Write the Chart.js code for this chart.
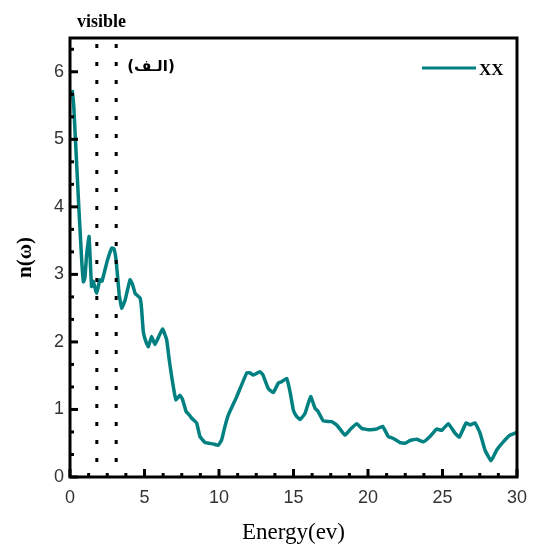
<!DOCTYPE html>
<html>
<head>
<meta charset="utf-8">
<script src="https://cdn.jsdelivr.net/npm/chart.js@4"></script>
<style>
  body { margin: 0; background: #fff; }
</style>
</head>
<body>
<canvas id="nChart" width="533" height="548"></canvas>
<script>
// energy (eV) and refractive index n(w)
const energy = [0.15, 0.25, 0.4, 0.6, 0.72, 0.8, 0.9, 1.0, 1.12, 1.28, 1.38, 1.45, 1.55, 1.79, 2.0, 2.15, 2.5, 2.8, 2.95, 3.1,
  3.3, 3.47, 3.7, 4.03, 4.2, 4.37, 4.7, 4.8, 4.92, 5.1, 5.26, 5.48, 5.7, 6.0, 6.22, 6.49, 6.65, 6.82, 7.0, 7.11,
  7.38, 7.55, 7.79, 8.0, 8.17, 8.5, 8.72, 9.06, 9.6, 9.95, 10.18, 10.4, 10.63, 11.19, 11.86, 12.08, 12.3, 12.75, 12.95, 13.31,
  13.64, 13.98, 14.2, 14.54, 14.77, 14.99, 15.2, 15.44, 15.77, 16.15, 16.44, 16.65, 17.0, 17.56, 17.9, 18.46, 18.79, 19.24, 19.58, 20.02,
  20.58, 20.98, 21.36, 21.7, 22.15, 22.48, 22.82, 23.27, 23.71, 24.16, 24.61, 24.95, 25.39, 25.84, 26.13, 26.58, 26.85, 27.18, 27.52, 27.85,
  28.26, 28.64, 29.08, 29.53, 29.87, 30.0];
const nXX = [5.73, 5.5, 4.84, 3.96, 3.47, 3.15, 2.89, 2.95, 3.3, 3.56, 3.1, 2.82, 2.9, 2.72, 2.92, 2.9, 3.2, 3.39, 3.38, 3.2,
  2.7, 2.5, 2.62, 2.92, 2.85, 2.72, 2.65, 2.5, 2.15, 2.0, 1.93, 2.08, 1.96, 2.1, 2.19, 2.03, 1.75, 1.49, 1.25, 1.14,
  1.21, 1.15, 0.97, 0.92, 0.87, 0.8, 0.6, 0.51, 0.49, 0.47, 0.55, 0.75, 0.92, 1.19, 1.54, 1.54, 1.51, 1.56, 1.51, 1.31,
  1.25, 1.39, 1.41, 1.46, 1.26, 0.99, 0.9, 0.85, 0.94, 1.19, 1.02, 0.97, 0.83, 0.82, 0.77, 0.62, 0.7, 0.79, 0.72, 0.7,
  0.71, 0.75, 0.6, 0.57, 0.51, 0.5, 0.54, 0.56, 0.52, 0.6, 0.71, 0.69, 0.79, 0.65, 0.59, 0.8, 0.77, 0.8, 0.65, 0.4,
  0.24, 0.4, 0.52, 0.62, 0.65, 0.66];
const visibleEdges = [1.8, 3.1];
const seriesLabel = 'XX';
const teal = '#008080';

// frame, inward ticks, visible-range lines and the labels
const decorations = {
  id: 'decorations',
  afterDraw(chart) {
    const { ctx, chartArea: a, scales: { x, y } } = chart;
    ctx.save();

    // dotted lines for the visible range
    ctx.strokeStyle = '#000';
    ctx.lineWidth = 3;
    ctx.setLineDash([4, 14]);
    visibleEdges.forEach(e => {
      const px = x.getPixelForValue(e);
      ctx.beginPath();
      ctx.moveTo(px, a.top + 6);
      ctx.lineTo(px, a.bottom);
      ctx.stroke();
    });
    ctx.setLineDash([]);

    // ticks pointing inward
    ctx.lineWidth = 3;
    for (let v = 0; v <= 30.001; v += 1.25) {
      const px = x.getPixelForValue(v);
      const len = Math.abs(v % 5) < 0.01 ? 8 : 4;
      ctx.beginPath();
      ctx.moveTo(px, a.bottom);
      ctx.lineTo(px, a.bottom - len);
      ctx.stroke();
    }
    for (let i = 0; i <= 19; i++) {
      const v = i / 3;
      const py = y.getPixelForValue(v);
      const len = i % 3 === 0 ? 8 : 4;
      ctx.beginPath();
      ctx.moveTo(a.left, py);
      ctx.lineTo(a.left + len, py);
      ctx.stroke();
    }

    // frame
    ctx.lineWidth = 3;
    ctx.strokeRect(a.left, a.top, a.right - a.left, a.bottom - a.top);

    // labels
    ctx.fillStyle = '#000';
    ctx.font = 'bold 18px "Liberation Serif"';
    ctx.textAlign = 'left';
    ctx.textBaseline = 'alphabetic';
    ctx.fillText('visible', 77, 27);

    ctx.font = 'bold 15px "DejaVu Sans"';
    ctx.textAlign = 'center';
    ctx.fillText('(الـف)', 151, 71);

    // legend
    ctx.strokeStyle = teal;
    ctx.lineWidth = 3;
    ctx.beginPath();
    ctx.moveTo(422, 68);
    ctx.lineTo(476, 68);
    ctx.stroke();
    ctx.fillStyle = '#000';
    ctx.font = 'bold 17px "Liberation Serif"';
    ctx.textAlign = 'left';
    ctx.fillText(seriesLabel, 479, 75);

    ctx.restore();
  }
};

new Chart(document.getElementById('nChart'), {
  type: 'scatter',
  data: {
    datasets: [{
      label: seriesLabel,
      data: energy.map((e, i) => ({ x: e, y: nXX[i] })),
      showLine: true,
      borderColor: teal,
      borderWidth: 3.5,
      pointRadius: 0,
      tension: 0.1
    }]
  },
  options: {
    responsive: false,
    animation: false,
    layout: { padding: { left: 0, top: 38, right: 16, bottom: 0 } },
    plugins: { legend: { display: false }, tooltip: { enabled: false } },
    scales: {
      x: {
        type: 'linear',
        min: 0, max: 30,
        afterFit: s => { s.height = 71; s.paddingLeft = 0; s.paddingRight = 0; },
        grid: { display: false, drawTicks: false },
        border: { display: false },
        ticks: { stepSize: 5, padding: 10, color: '#333', font: { family: 'Liberation Sans', size: 18 } },
        title: {
          display: true, text: 'Energy(ev)', color: '#000',
          font: { family: 'Liberation Serif', size: 23 },
          padding: { top: 0, bottom: 1 }
        }
      },
      y: {
        min: 0, max: 6.5,
        afterFit: s => { s.width = 70; s.paddingTop = 0; s.paddingBottom = 0; },
        grid: { display: false, drawTicks: false },
        border: { display: false },
        ticks: { stepSize: 1, includeBounds: false, padding: 6, color: '#333', font: { family: 'Liberation Sans', size: 18 } },
        title: {
          display: true, text: 'n(ω)', color: '#000',
          font: { family: 'Liberation Serif', size: 21, weight: 'bold' },
          padding: { top: 13, bottom: 0 }
        }
      }
    }
  },
  plugins: [decorations]
});
</script>
</body>
</html>
